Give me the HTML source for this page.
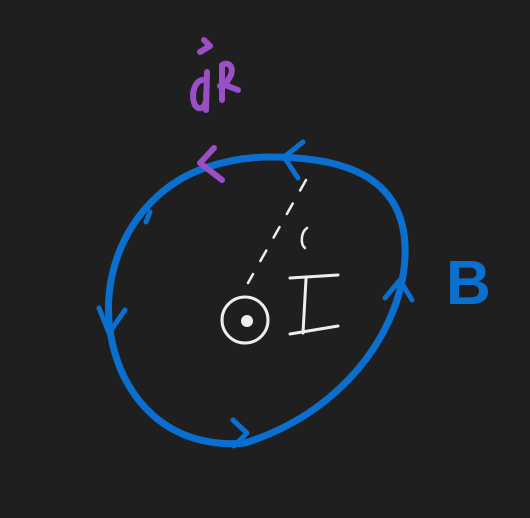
<!DOCTYPE html>
<html>
<head>
<meta charset="utf-8">
<style>
html,body{margin:0;padding:0;background:#1f1f1f;}
svg{display:block;}
text{font-family:"Liberation Sans",sans-serif;}
</style>
</head>
<body>
<svg width="530" height="518" viewBox="0 0 530 518">
  <rect width="530" height="518" fill="#1f1f1f"/>
  <path d="M270,157 C350,157 402,180 405,245 C408,320 350,410 245,443 C170,450 120,400 110,330 C100,260 140,190 205,168 C225,161 245,157 270,157 Z"
        fill="none" stroke="#0b6fcf" stroke-width="7" stroke-linecap="round"/>
  <g fill="none" stroke="#0b6fcf" stroke-width="5" stroke-linecap="round" stroke-linejoin="round">
    <path d="M303,142 L284,157 L298,178"/>
    <path d="M99,308 L109,333 L125,310"/>
    <path d="M233,420 L247,433 L234,446"/>
    <path d="M385,298 L400,280 L412,300"/>
    <path d="M150,212 L146,222"/>
  </g>
  <path d="M214,148 L200,163 L222,180" fill="none" stroke="#9a4fc6" stroke-width="6" stroke-linecap="round" stroke-linejoin="round"/>
  <g fill="none" stroke="#9a4fc6" stroke-width="6" stroke-linecap="round" stroke-linejoin="round">
    <path d="M205,80 C195,78 190,95 195,105 C200,113 208,105 206,95 M207,72 L206,110"/>
    <path d="M222,100 L222,65 C230,60 236,70 228,80 C226,85 222,88 220,86 M225,85 L238,90"/>
    <path d="M200,52 L210,46 L204,40"/>
  </g>
  <text x="0" y="0" fill="none" font-size="1">dR</text>
  <text x="446" y="304" fill="#0b6fcf" font-size="62" font-weight="bold">B</text>
  <circle cx="245" cy="320" r="23" fill="none" stroke="#eeeeee" stroke-width="3"/>
  <circle cx="247" cy="321" r="6" fill="#eeeeee"/>
  <g stroke="#eeeeee" stroke-width="3" stroke-linecap="round" fill="none">
    <path d="M290,278 L338,275"/>
    <path d="M306,279 L303,333"/>
    <path d="M290,334 L338,326"/>
  </g>
  <text x="0" y="0" fill="none" font-size="1">I</text>
  <path d="M306,180 L248,283" stroke="#eeeeee" stroke-width="2.5" stroke-dasharray="12,15" fill="none" stroke-linecap="round"/>
  <path d="M307,228 C301,232 300,244 305,248" stroke="#eeeeee" stroke-width="2.5" fill="none" stroke-linecap="round"/>
</svg>
</body>
</html>
